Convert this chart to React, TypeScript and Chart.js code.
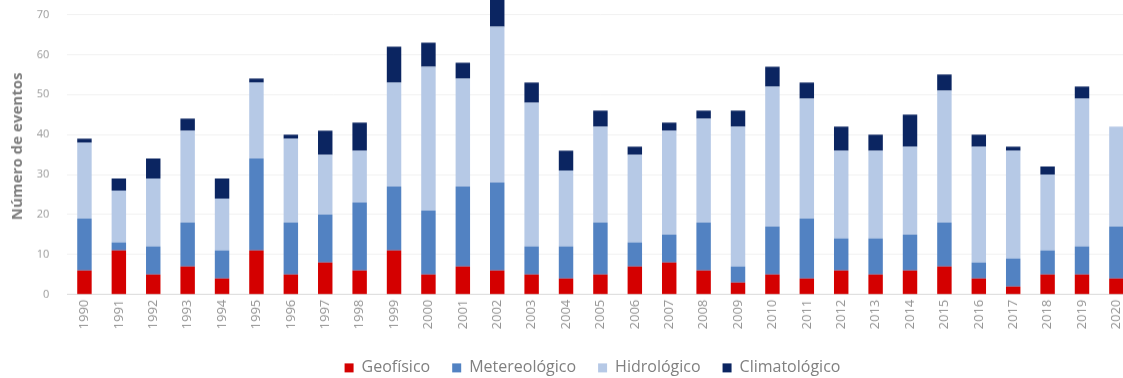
import React, { useEffect, useRef } from 'react';
import { Chart, registerables } from 'chart.js';

Chart.register(...registerables);

const years = [
  '1990', '1991', '1992', '1993', '1994', '1995', '1996', '1997', '1998', '1999',
  '2000', '2001', '2002', '2003', '2004', '2005', '2006', '2007', '2008', '2009',
  '2010', '2011', '2012', '2013', '2014', '2015', '2016', '2017', '2018', '2019', '2020',
];
const geofisico = [6, 11, 5, 7, 4, 11, 5, 8, 6, 11, 5, 7, 6, 5, 4, 5, 7, 8, 6, 3, 5, 4, 6, 5, 6, 7, 4, 2, 5, 5, 4];
const metereologico = [13, 2, 7, 11, 7, 23, 13, 12, 17, 16, 16, 20, 22, 7, 8, 13, 6, 7, 12, 4, 12, 15, 8, 9, 9, 11, 4, 7, 6, 7, 13];
const hidrologico = [19, 13, 17, 23, 13, 19, 21, 15, 13, 26, 36, 27, 39, 36, 19, 24, 22, 26, 26, 35, 35, 30, 22, 22, 22, 33, 29, 27, 19, 37, 25];
const climatologico = [1, 3, 5, 3, 5, 1, 1, 6, 7, 9, 6, 4, 7, 5, 5, 4, 2, 2, 2, 4, 5, 4, 6, 4, 8, 4, 3, 1, 2, 3, 0];

const seriesNames = ['Geofísico', 'Metereológico', 'Hidrológico', 'Climatológico'];
const seriesColors = ['#d40000', '#5282c2', '#b6c9e6', '#0b2561'];
const yAxisTitle = 'Número de eventos';
const yMax = 74;
const yStep = 10;

const FONT = '"Open Sans", "Liberation Sans", sans-serif';

const legendShift = {
  id: 'legendShift',
  afterLayout(chart: any) {
    const l = chart.legend;
    if (l) {
      l.left += 24;
      l.right += 24;
    }
  },
};

const yTitlePlugin = {
  id: 'yTitlePlugin',
  afterDraw(chart: any) {
    const { ctx, chartArea } = chart;
    ctx.save();
    ctx.translate(18, chartArea.bottom - 147.8);
    ctx.rotate(-Math.PI / 2);
    ctx.font = `bold 15px ${FONT}`;
    ctx.fillStyle = '#7f7f7f';
    ctx.textAlign = 'center';
    ctx.textBaseline = 'middle';
    ctx.fillText(yAxisTitle, 0, 0);
    ctx.restore();
  },
};

export default function App() {
  const ref = useRef<HTMLCanvasElement | null>(null);

  useEffect(() => {
    if (!ref.current) return;
    const values = [geofisico, metereologico, hidrologico, climatologico];
    const chart = new Chart(ref.current, {
      type: 'bar',
      data: {
        labels: years,
        datasets: seriesNames.map((name, i) => ({
          label: name,
          data: values[i],
          backgroundColor: seriesColors[i],
          borderWidth: 0,
          barPercentage: 0.42,
          categoryPercentage: 1,
        })),
      },
      options: {
        animation: false,
        responsive: true,
        maintainAspectRatio: false,
        layout: { padding: { top: 11.6, left: 0, right: 0, bottom: 0 } },
        plugins: {
          tooltip: { enabled: false },
          legend: {
            position: 'bottom',
            labels: {
              boxWidth: 9,
              boxHeight: 9,
              padding: 22,
              color: '#808080',
              font: { family: FONT, size: 16 },
            },
          },
        },
        scales: {
          x: {
            stacked: true,
            offset: true,
            grid: { display: false, drawTicks: false },
            border: { display: true, color: '#d9d9d9', width: 1 },
            ticks: {
              autoSkip: false,
              minRotation: 90,
              maxRotation: 90,
              padding: 5,
              color: '#939393',
              font: { family: FONT, size: 13 },
            },
            afterFit: (scale: any) => {
              scale.height = 43.2;
            },
          },
          y: {
            stacked: true,
            min: 0,
            max: yMax,
            grid: { color: '#f0f0f0', drawTicks: false },
            border: { display: false },
            ticks: {
              stepSize: yStep,
              includeBounds: false,
              padding: 18,
              color: '#9a9a9a',
              font: { family: FONT, size: 11 },
            },
            title: { display: false },
            afterFit: (scale: any) => {
              scale.width = 67.25;
            },
          },
        },
      },
      plugins: [legendShift, yTitlePlugin],
    } as any);
    return () => chart.destroy();
  }, []);

  return (
    <div style={{ position: 'fixed', left: 0, top: 0, width: 1123, height: 378, overflow: 'hidden', background: '#fff' }}>
      <div style={{ position: 'absolute', left: 0, top: -26.4, width: 1137, height: 410.9 }}>
        <canvas ref={ref} />
      </div>
    </div>
  );
}
